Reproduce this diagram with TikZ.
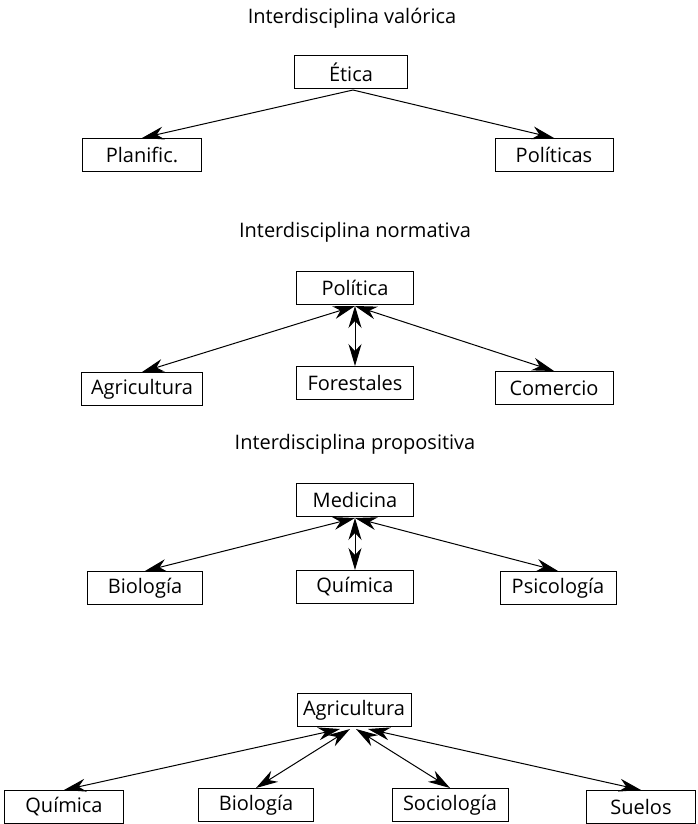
\documentclass[tikz,border=0pt]{standalone}
\usepackage{fontspec}
\setmainfont{Open Sans}
\usetikzlibrary{arrows.meta}
\begin{document}
\begin{tikzpicture}[x=1pt,y=-1pt,
  font=\fontsize{20}{23}\selectfont,
  box/.style={draw,line width=1pt,minimum height=33pt,inner sep=0pt,text=black},
  ttl/.style={text=black},
  tip/.tip={Stealth[length=22pt,width=13pt,inset=7pt]},
  arr/.style={line width=1pt,-tip},
  darr/.style={line width=1pt,tip-tip}]
\useasboundingbox (0,0) rectangle (697,824);
% section 1
\node[ttl] (t1) at (352,18) {Interdisciplina valórica};
\node[box,minimum width=113pt] (etica) at (351,72) {Ética};
\node[box,minimum width=119pt] (planif) at (142,155) {Planific.};
\node[box,minimum width=118pt] (politicas) at (554,155) {Políticas};
\coordinate (e0) at (353,90);
\draw[arr] (e0) -- (planif.north);
\draw[arr] (e0) -- (politicas.north);
% section 2
\node[ttl] (t2) at (355,232) {Interdisciplina normativa};
\node[box,minimum width=117pt] (politica) at (355,288) {Política};
\node[box,minimum width=121pt] (agri) at (142,389) {Agricultura};
\node[box,minimum width=117pt] (forest) at (355,383) {Forestales};
\node[box,minimum width=118pt] (comer) at (554,388) {Comercio};
\coordinate (p0) at (355,306);
\draw[darr] (p0) -- (agri.north);
\draw[darr] (p0) -- (forest.north);
\draw[darr] (p0) -- (comer.north);
% section 3
\node[ttl] (t3) at (355,444) {Interdisciplina propositiva};
\node[box,minimum width=117pt] (medic) at (355,500) {Medicina};
\node[box,minimum width=115pt] (bio) at (145,588) {Biología};
\node[box,minimum width=117pt] (quim) at (355,587) {Química};
\node[box,minimum width=116pt] (psico) at (558,588) {Psicología};
\coordinate (m0) at (355,518);
\draw[darr] (m0) -- (bio.north);
\draw[darr] (m0) -- (quim.north);
\draw[darr] (m0) -- (psico.north);
% section 4
\node[box,minimum width=114pt] (agri2) at (354,710) {Agricultura};
\node[box,minimum width=119pt] (quim2) at (64,807) {Química};
\node[box,minimum width=115pt] (bio2) at (256,805) {Biología};
\node[box,minimum width=116pt] (socio) at (450,805) {Sociología};
\node[box,minimum width=109pt] (suelos) at (641,807) {Suelos};
\coordinate (a1) at (340,729);
\coordinate (a2) at (350,729);
\coordinate (a3) at (356,729);
\coordinate (a4) at (368,729);
\draw[darr] (a1) -- (quim2.north);
\draw[darr] (a2) -- (bio2.north);
\draw[darr] (a3) -- (socio.north);
\draw[darr] (a4) -- (suelos.north);
\end{tikzpicture}
\end{document}
